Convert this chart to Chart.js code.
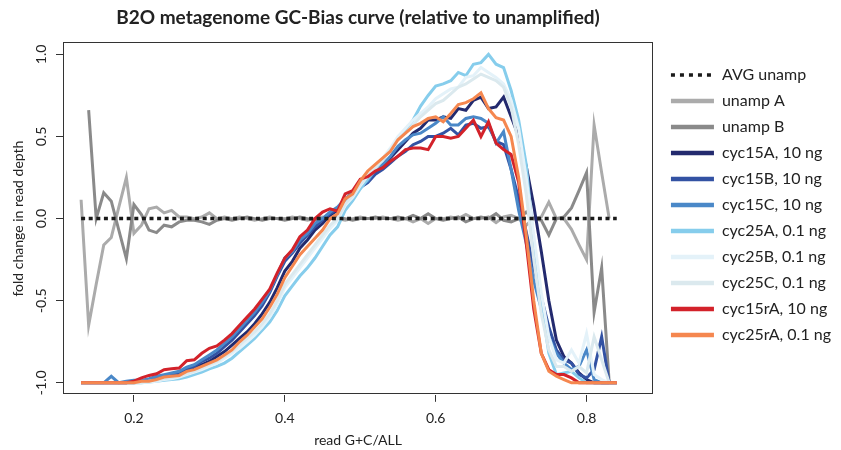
<!DOCTYPE html>
<html>
<head>
<meta charset="utf-8">
<script src="https://cdn.jsdelivr.net/npm/chart.js@4/dist/chart.umd.min.js"></script>
<style>
  body { margin: 0; background: #fff; }
  #wrap { width: 841px; height: 450px; }
</style>
</head>
<body>
<div id="wrap"><canvas id="gcChart"></canvas></div>
<script>
// read G+C / ALL bins
const gcFrac = [
  0.13, 0.14, 0.15, 0.16, 0.17, 0.18, 0.19, 0.20, 0.21, 0.22,
  0.23, 0.24, 0.25, 0.26, 0.27, 0.28, 0.29, 0.30, 0.31, 0.32,
  0.33, 0.34, 0.35, 0.36, 0.37, 0.38, 0.39, 0.40, 0.41, 0.42,
  0.43, 0.44, 0.45, 0.46, 0.47, 0.48, 0.49, 0.50, 0.51, 0.52,
  0.53, 0.54, 0.55, 0.56, 0.57, 0.58, 0.59, 0.60, 0.61, 0.62,
  0.63, 0.64, 0.65, 0.66, 0.67, 0.68, 0.69, 0.70, 0.71, 0.72,
  0.73, 0.74, 0.75, 0.76, 0.77, 0.78, 0.79, 0.80, 0.81, 0.82,
  0.83, 0.84
];

const avgUnamp = [
  0, 0, 0, 0, 0, 0, 0, 0, 0, 0,
  0, 0, 0, 0, 0, 0, 0, 0, 0, 0,
  0, 0, 0, 0, 0, 0, 0, 0, 0, 0,
  0, 0, 0, 0, 0, 0, 0, 0, 0, 0,
  0, 0, 0, 0, 0, 0, 0, 0, 0, 0,
  0, 0, 0, 0, 0, 0, 0, 0, 0, 0,
  0, 0, 0, 0, 0, 0, 0, 0, 0, 0,
  0, 0
];

const unampA = [
  0.115, -0.65, -0.40, -0.16, -0.115, 0.07, 0.25, -0.09, -0.04, 0.06,
  0.07, 0.035, 0.05, 0.01, 0.01, 0.00, 0.01, 0.035, 0.00, 0.01,
  0.00, 0.01, 0.00, -0.01, 0.00, 0.01, 0.00, 0.00, 0.01, 0.00,
  -0.01, 0.00, 0.01, 0.00, 0.00, -0.01, 0.00, 0.01, 0.00, 0.00,
  0.01, 0.00, -0.01, 0.00, -0.02, 0.00, -0.03, 0.00, 0.00, 0.01,
  0.00, 0.025, 0.00, 0.00, 0.01, -0.025, 0.01, 0.02, 0.00, -0.04,
  0.00, 0.01, 0.10, 0.00, 0.00, -0.065, -0.16, -0.25, 0.57, 0.28,
  0.00, null
];

const unampB = [
  null, 0.66, 0.00, 0.157, 0.106, -0.07, -0.244, 0.085, 0.024, -0.07,
  -0.085, -0.04, -0.05, -0.02, -0.01, -0.01, -0.02, -0.035, -0.01, 0.00,
  -0.01, 0.00, 0.01, 0.00, -0.01, 0.00, 0.00, -0.01, 0.00, 0.01,
  0.00, -0.01, 0.00, 0.00, 0.01, 0.00, -0.01, 0.00, 0.00, 0.01,
  0.00, 0.00, 0.01, 0.00, 0.02, 0.00, 0.03, 0.00, -0.01, 0.00,
  0.01, -0.02, 0.00, 0.01, 0.00, 0.03, -0.01, -0.02, 0.00, 0.04,
  0.00, -0.01, -0.10, 0.00, 0.01, 0.065, 0.17, 0.28, -0.57, -0.30,
  -1.00, -1.00
];

const cyc15A = [
  -1, -1, -1, -1, -1, -1, -1, -1, -0.995, -0.99,
  -0.98, -0.97, -0.96, -0.95, -0.93, -0.91, -0.89, -0.87, -0.84, -0.81,
  -0.77, -0.73, -0.69, -0.64, -0.58, -0.51, -0.42, -0.32, -0.26, -0.18,
  -0.13, -0.07, -0.03, 0.02, 0.05, 0.11, 0.15, 0.21, 0.25, 0.29,
  0.32, 0.37, 0.42, 0.47, 0.52, 0.55, 0.60, 0.60, 0.62, 0.61,
  0.67, 0.66, 0.72, 0.74, 0.67, 0.68, 0.74, 0.62, 0.50, 0.32,
  0.08, -0.20, -0.50, -0.74, -0.84, -0.88, -0.94, -0.98, -1, -1,
  -1, -1
];

const cyc15B = [
  -1, -1, -1, -1, -1, -1, -1, -0.99, -0.99, -0.98,
  -0.97, -0.96, -0.95, -0.94, -0.92, -0.90, -0.87, -0.85, -0.82, -0.78,
  -0.74, -0.69, -0.64, -0.59, -0.53, -0.45, -0.35, -0.26, -0.21, -0.15,
  -0.10, -0.05, -0.01, 0.03, 0.06, 0.11, 0.14, 0.19, 0.22, 0.27,
  0.30, 0.34, 0.38, 0.41, 0.45, 0.47, 0.50, 0.50, 0.52, 0.55,
  0.51, 0.57, 0.58, 0.55, 0.56, 0.47, 0.45, 0.30, 0.12, -0.08,
  -0.30, -0.48, -0.66, -0.80, -0.86, -0.88, -0.95, -0.97, -0.92, -0.72,
  -1, -1
];

const cyc15C = [
  -1, -1, -1, -1, -0.96, -1, -0.99, -0.985, -0.985, -0.975,
  -0.96, -0.95, -0.94, -0.93, -0.905, -0.89, -0.86, -0.83, -0.80, -0.76,
  -0.72, -0.67, -0.62, -0.57, -0.51, -0.44, -0.34, -0.24, -0.20, -0.13,
  -0.09, -0.03, 0.00, 0.04, 0.07, 0.12, 0.16, 0.20, 0.23, 0.30,
  0.33, 0.38, 0.44, 0.48, 0.51, 0.52, 0.55, 0.58, 0.62, 0.57,
  0.57, 0.61, 0.62, 0.61, 0.58, 0.46, 0.53, 0.30, 0.05, -0.15,
  -0.38, -0.55, -0.72, -0.82, -0.88, -0.92, -0.90, -0.80, -0.98, -1,
  -1, -1
];

const cyc25A = [
  -1, -1, -1, -1, -1, -1, -1, -1, -1, -0.995,
  -0.99, -0.985, -0.98, -0.975, -0.965, -0.95, -0.935, -0.915, -0.90, -0.88,
  -0.85, -0.81, -0.77, -0.73, -0.68, -0.63, -0.56, -0.47, -0.41, -0.35,
  -0.30, -0.24, -0.17, -0.10, -0.05, 0.05, 0.11, 0.18, 0.24, 0.30,
  0.36, 0.42, 0.49, 0.54, 0.60, 0.685, 0.75, 0.807, 0.82, 0.84,
  0.89, 0.87, 0.94, 0.95, 1.00, 0.94, 0.92, 0.78, 0.60, 0.33,
  -0.15, -0.52, -0.82, -0.95, -0.94, -0.93, -0.97, -1, -1, -1,
  -1, -1
];

const cyc25B = [
  -1, -1, -1, -1, -1, -1, -1, -1, -1, -0.995,
  -0.99, -0.98, -0.975, -0.965, -0.95, -0.935, -0.92, -0.90, -0.88, -0.85,
  -0.82, -0.79, -0.75, -0.71, -0.66, -0.60, -0.52, -0.42, -0.36, -0.30,
  -0.24, -0.18, -0.12, -0.06, -0.01, 0.08, 0.13, 0.20, 0.26, 0.31,
  0.37, 0.43, 0.50, 0.55, 0.60, 0.64, 0.68, 0.73, 0.76, 0.79,
  0.80, 0.86, 0.87, 0.92, 0.89, 0.86, 0.82, 0.72, 0.55, 0.25,
  -0.10, -0.45, -0.72, -0.86, -0.88, -0.80, -0.88, -0.70, -0.95, -0.98,
  -1, -1
];

const cyc25C = [
  -1, -1, -1, -1, -1, -1, -1, -1, -1, -0.99,
  -0.985, -0.975, -0.97, -0.96, -0.945, -0.93, -0.91, -0.89, -0.87, -0.84,
  -0.81, -0.77, -0.73, -0.69, -0.64, -0.58, -0.50, -0.40, -0.34, -0.28,
  -0.22, -0.16, -0.10, -0.04, 0.00, 0.09, 0.14, 0.21, 0.26, 0.31,
  0.36, 0.42, 0.48, 0.52, 0.57, 0.62, 0.66, 0.70, 0.72, 0.76,
  0.80, 0.82, 0.85, 0.88, 0.86, 0.84, 0.80, 0.68, 0.45, 0.15,
  -0.25, -0.58, -0.80, -0.90, -0.90, -0.93, -0.90, -0.94, -0.72, -0.86,
  -1, -1
];

const cyc15rA = [
  -1, -1, -1, -1, -1, -1, -1, -0.99, -0.97, -0.955,
  -0.945, -0.92, -0.915, -0.91, -0.865, -0.86, -0.82, -0.79, -0.775, -0.74,
  -0.70, -0.65, -0.60, -0.55, -0.49, -0.43, -0.33, -0.24, -0.19, -0.11,
  -0.07, 0.00, 0.04, 0.06, 0.045, 0.15, 0.17, 0.24, 0.255, 0.29,
  0.31, 0.35, 0.38, 0.42, 0.43, 0.43, 0.42, 0.50, 0.50, 0.49,
  0.50, 0.55, 0.60, 0.50, 0.59, 0.46, 0.42, 0.39, 0.22, -0.15,
  -0.55, -0.82, -0.92, -0.95, -0.95, -0.97, -1, -1, -1, -1,
  -1, -1
];

const cyc25rA = [
  -1, -1, -1, -1, -1, -1, -1, -1, -0.99, -0.99,
  -0.98, -0.965, -0.96, -0.955, -0.93, -0.92, -0.90, -0.88, -0.86, -0.83,
  -0.80, -0.75, -0.71, -0.66, -0.61, -0.54, -0.46, -0.36, -0.29, -0.22,
  -0.17, -0.12, -0.07, 0.00, 0.03, 0.12, 0.15, 0.23, 0.29, 0.33,
  0.37, 0.41, 0.48, 0.52, 0.56, 0.58, 0.61, 0.62, 0.59, 0.64,
  0.695, 0.706, 0.73, 0.766, 0.67, 0.615, 0.60, 0.50, 0.25, -0.10,
  -0.50, -0.82, -0.93, -0.96, -0.98, -1, -1, -1, -1, -1,
  -1, -1
];

const xTicks = [0.2, 0.4, 0.6, 0.8];
const yTicks = [-1, -0.5, 0, 0.5, 1];

// legend order = list order; "order" puts later R-style lines on top
const series = [
  { label: "AVG unamp",        vals: avgUnamp, color: "#1a1a1a", dash: [4, 3.6], width: 3.5, order: 0 },
  { label: "unamp A",          vals: unampA,   color: "#ababab", width: 3, order: 11 },
  { label: "unamp B",          vals: unampB,   color: "#8a8a8a", width: 3, order: 10 },
  { label: "cyc15A, 10 ng",    vals: cyc15A,   color: "#232a6e", width: 3, order: 9 },
  { label: "cyc15B, 10 ng",    vals: cyc15B,   color: "#3352a3", width: 3, order: 8 },
  { label: "cyc15C, 10 ng",    vals: cyc15C,   color: "#4a88c8", width: 3, order: 7 },
  { label: "cyc25A, 0.1 ng",   vals: cyc25A,   color: "#86cdec", width: 3, order: 6 },
  { label: "cyc25B, 0.1 ng",   vals: cyc25B,   color: "#e4f2f9", width: 3, order: 5 },
  { label: "cyc25C, 0.1 ng",   vals: cyc25C,   color: "#dbe9ee", width: 3, order: 4 },
  { label: "cyc15rA, 10 ng",   vals: cyc15rA,  color: "#d3222a", width: 3, order: 3 },
  { label: "cyc25rA, 0.1 ng",  vals: cyc25rA,  color: "#f5874f", width: 3, order: 2 }
];

const frame = {
  id: "frame",
  afterDatasetsDraw(chart) {
    const { ctx, chartArea: a } = chart;
    ctx.save();
    ctx.strokeStyle = "#333";
    ctx.lineWidth = 1;
    ctx.strokeRect(Math.round(a.left) + 0.5, Math.round(a.top) + 0.5,
      Math.round(a.right - a.left) - 1, Math.round(a.bottom - a.top) - 1);
    ctx.restore();
  }
};

const font = "Lato, 'Open Sans', sans-serif";

new Chart(document.getElementById("gcChart"), {
  type: "line",
  data: {
    datasets: series.map(s => ({
      label: s.label,
      data: gcFrac.map((x, i) => ({ x: x, y: s.vals[i] })),
      borderColor: s.color,
      backgroundColor: s.color,
      borderWidth: s.width,
      borderDash: s.dash || [],
      borderCapStyle: "butt",
      pointRadius: 0,
      tension: 0,
      fill: false,
      order: s.order
    }))
  },
  options: {
    responsive: true,
    maintainAspectRatio: false,
    animation: false,
    layout: { padding: 0 },
    plugins: {
      title: {
        display: true,
        fullSize: false,
        text: "B2O metagenome GC-Bias curve (relative to unamplified)",
        color: "#222",
        font: { family: font, size: 19, weight: "bold" },
        padding: { top: 6, bottom: 13.6 }
      },
      legend: {
        position: "right",
        align: "start",
        title: { display: true, text: "", font: { size: 1 }, padding: { top: 0, bottom: 55.8 } },
        labels: {
          usePointStyle: true,
          pointStyle: "line",
          pointStyleWidth: 43,
          padding: 10,
          color: "#222",
          font: { family: font, size: 16 },
          generateLabels: chart => chart.data.datasets.map((ds, i) => ({
            text: ds.label,
            strokeStyle: ds.borderColor,
            fillStyle: ds.borderColor,
            fontColor: "#222",
            lineWidth: ds.borderDash.length ? 3.5 : 4.5,
            lineDash: ds.borderDash.length ? [4, 5] : [],
            lineCap: "butt",
            pointStyle: "line",
            hidden: false,
            datasetIndex: i
          }))
        }
      },
      tooltip: { enabled: false }
    },
    scales: {
      x: {
        type: "linear",
        min: 0.106,
        max: 0.888,
        afterBuildTicks: axis => { axis.ticks = xTicks.map(v => ({ value: v })); },
        grid: { display: true, drawOnChartArea: false, drawTicks: true, tickLength: 7, color: "#333" },
        border: { display: false },
        ticks: {
          color: "#222",
          padding: 9.6,
          font: { family: font, size: 14, lineHeight: 1 },
          callback: v => v.toFixed(1)
        },
        title: {
          display: true,
          text: "read G+C/ALL",
          color: "#222",
          font: { family: font, size: 14, lineHeight: 1 },
          padding: { top: -2, bottom: 3 }
        }
      },
      y: {
        type: "linear",
        min: -1.073,
        max: 1.073,
        afterBuildTicks: axis => { axis.ticks = yTicks.map(v => ({ value: v })); },
        grid: { display: true, drawOnChartArea: false, drawTicks: true, tickLength: 7, color: "#333" },
        border: { display: false },
        ticks: {
          color: "#222",
          padding: 2,
          minRotation: 90,
          maxRotation: 90,
          crossAlign: "center",
          font: { family: font, size: 14 },
          callback: v => v.toFixed(1)
        },
        title: {
          display: true,
          text: "fold change in read depth",
          color: "#222",
          font: { family: font, size: 14 },
          padding: { top: 9.6, bottom: 8.8 }
        }
      },
      // hidden right scale: only keeps a small gap between the plot frame and the legend
      gap: {
        type: "linear",
        position: "right",
        display: false,
        afterFit: s => { s.width = 8; }
      }
    }
  },
  plugins: [frame]
});
</script>
</body>
</html>
